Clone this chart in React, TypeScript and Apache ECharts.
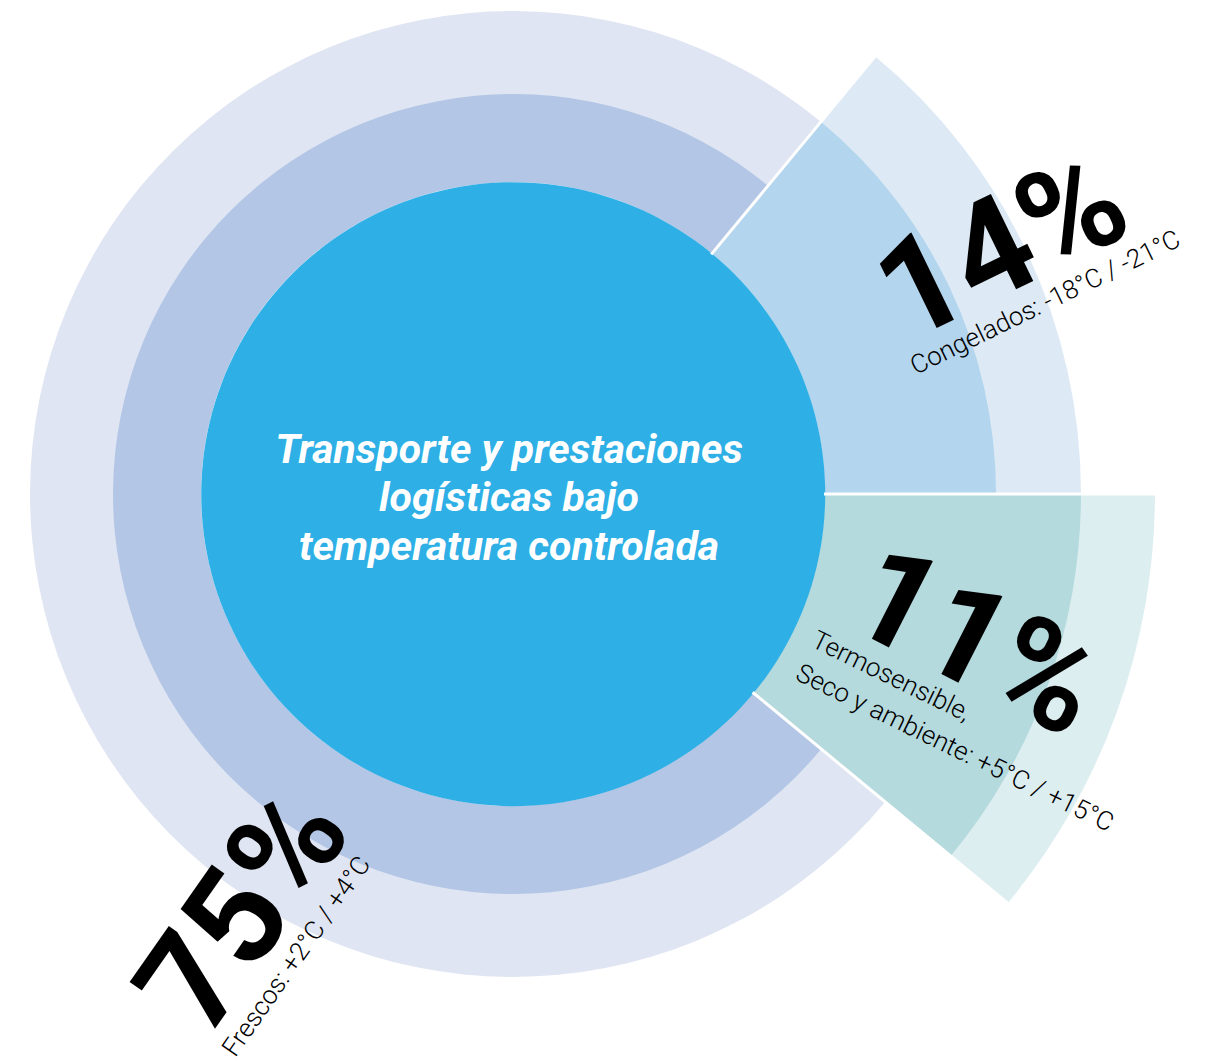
import React, { useEffect, useRef } from "react";
import * as echarts from "echarts";

// ---- data ----
const categories = ["Congelados", "Termosensible, Seco y ambiente", "Frescos"];
const shares = [14, 11, 75];
const shareLabels = ["14%", "11%", "75%"];
const detailLines = [
  ["Congelados: -18°C / -21°C"],
  ["Termosensible,", "Seco y ambiente: +5°C / +15°C"],
  ["Frescos: +2°C / +4°C"],
];
const centerTitle = ["Transporte y prestaciones", "logísticas bajo", "temperatura controlada"];

// ---- layout / style ----
const W = 1217;
const H = 1064;
const CX = 513;
const CY = 494;
const R_CORE = 312;
const R_MAX = 642;
const CORE_COLOR = "#2EAFE5";
const NONE = "rgba(0,0,0,0)";

// concentric layers drawn bottom-to-top; each colours the slices it covers
const layers = [
  { radius: [R_CORE, 642], colors: [null, "#DDEEF1", null] },
  { radius: [R_CORE, 568], colors: ["#DDEAF5", "#B5DADD", null] },
  { radius: [R_CORE, 483], colors: ["#B3D5ED", null, "#DFE5F2"] },
  { radius: [R_CORE, 400], colors: [null, null, "#B3C6E5"] },
];

const DEG = Math.PI / 180;

export default function App() {
  const ref = useRef<HTMLDivElement>(null);

  useEffect(() => {
    document.body.style.margin = "0";
    const chart = echarts.init(ref.current!, null, { renderer: "svg" });

    const total = shares.reduce((a, b) => a + b, 0);
    const startAngle = (shares[0] / total) * 360;

    // slice boundary angles (degrees) derived from the shares
    const boundaries: number[] = [];
    let cum = 0;
    shares.forEach((v) => {
      boundaries.push(startAngle - (cum / total) * 360);
      cum += v;
    });

    const pieBase = {
      type: "pie",
      center: [CX, CY],
      startAngle,
      clockwise: true,
      silent: true,
      avoidLabelOverlap: false,
      label: { show: false },
      labelLine: { show: false },
      emphasis: { disabled: true },
      itemStyle: { borderWidth: 0 },
    };

    const series: any[] = layers.map((layer) => ({
      ...pieBase,
      radius: layer.radius,
      data: shares.map((v, i) => ({
        name: categories[i],
        value: v,
        itemStyle: { color: layer.colors[i] ?? NONE, borderWidth: 0 },
      })),
    }));

    series.push({
      ...pieBase,
      radius: [0, R_CORE],
      data: [{ name: "total", value: total, itemStyle: { color: CORE_COLOR, borderWidth: 0 } }],
    });

    const dividers = boundaries.map((deg) => {
      const a = deg * DEG;
      return {
        type: "line",
        z: 50,
        silent: true,
        shape: {
          x1: CX + (R_CORE - 1) * Math.cos(a),
          y1: CY - (R_CORE - 1) * Math.sin(a),
          x2: CX + (R_MAX + 2) * Math.cos(a),
          y2: CY - (R_MAX + 2) * Math.sin(a),
        },
        style: { stroke: "#ffffff", lineWidth: 3 },
      };
    });

    const bigFont = "bold 136px Roboto";
    const smallFont = "300 26px Roboto";

    const txt = (text: string, x: number, y: number, rotDeg: number, font: string, align = "center", fill = "#000") => ({
      type: "text",
      x,
      y,
      rotation: rotDeg * DEG,
      z: 100,
      silent: true,
      style: {
        text,
        font,
        fill,
        align,
        verticalAlign: "middle",
        textAlign: align,
        textVerticalAlign: "middle",
      },
    });

    const titleFont = "italic bold 41px Roboto";
    const titleLines = centerTitle.map((line, i) =>
      txt(line, 509, 497 + (i - 1) * 48.5, 0, titleFont, "center", "#ffffff")
    );

    const graphic: any[] = [
      ...dividers,
      txt(shareLabels[0], 1001, 245, 26, bigFont),
      txt(detailLines[0][0], 1045, 302, 26, smallFont),
      txt(shareLabels[1], 977, 640, -27, bigFont),
      txt(detailLines[1][0], 814, 638, -26, smallFont, "left"),
      txt(detailLines[1][1], 798, 671, -26, smallFont, "left"),
      txt(shareLabels[2], 242, 909, 55, bigFont),
      txt(detailLines[2][0], 296, 956, 55, smallFont),
      ...titleLines,
    ];

    chart.setOption({
      animation: false,
      backgroundColor: "#ffffff",
      series,
      graphic,
    });

    return () => chart.dispose();
  }, []);

  return <div ref={ref} style={{ width: W, height: H }} />;
}
